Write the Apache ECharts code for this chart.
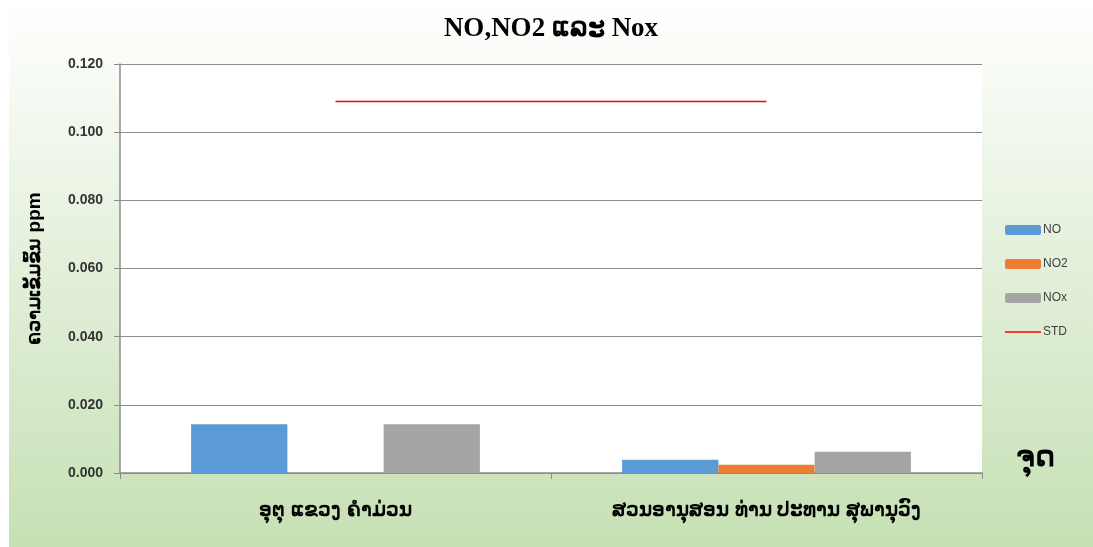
<!DOCTYPE html>
<html>
<head>
<meta charset="utf-8">
<script src="https://cdn.jsdelivr.net/npm/echarts@6/dist/echarts.min.js"></script>
<style>
  body { margin: 0; background: #fff; }
  .chart-wrap { position: absolute; left: 9px; top: 0; width: 1084px; height: 547px; }
</style>
</head>
<body>
<div class="chart-wrap" id="main"></div>
<script>
// 数据
const categories = ["ອຸຕຸ ແຂວງ ຄໍາມ່ວນ", "ສວນອານຸສອນ ທ່ານ ປະທານ ສຸພານຸວົງ"];
const noValues = [0.0143, 0.0039];
const no2Values = ["-", 0.0024];
const noxValues = [0.0143, 0.0062];
const stdValues = [0.109, 0.109];

const chart = echarts.init(document.getElementById("main"));

const option = {
  backgroundColor: new echarts.graphic.LinearGradient(0, 0, 0, 1, [
    { offset: 0, color: "#ffffff" },
    { offset: 0.5, color: "#e2efd9" },
    { offset: 1, color: "#c6e0b4" },
  ]),
  title: {
    text: "NO,NO2 ແລະ Nox",
    left: "center",
    top: 11,
    textStyle: {
      fontFamily: "Liberation Serif",
      fontSize: 27,
      fontWeight: "bold",
      color: "#000",
    },
  },
  grid: {
    left: 111,
    right: 111,
    top: 64,
    bottom: 74,
    show: true,
    backgroundColor: "#ffffff",
    borderWidth: 0,
  },
  legend: {
    orient: "vertical",
    left: 991,
    top: 219,
    itemWidth: 36,
    itemHeight: 10,
    itemGap: 22,
    textStyle: { fontSize: 12, color: "#404040", padding: [0, 0, 0, -3] },
    data: [
      { name: "NO" },
      { name: "NO2" },
      { name: "NOx" },
      { name: "STD", icon: "path://M0,4.2 L36,4.2 L36,5.8 L0,5.8 Z" },
    ],
  },
  xAxis: {
    type: "category",
    data: categories,
    name: "ຈຸດ",
    nameLocation: "end",
    nameGap: 34,
    nameTextStyle: {
      fontSize: 30,
      fontWeight: "bold",
      color: "#000",
      verticalAlign: "bottom",
    },
    axisLine: { lineStyle: { color: "#8c8c8c", width: 1.5 } },
    axisTick: { show: true, length: 6, lineStyle: { color: "#8c8c8c" } },
    axisLabel: {
      fontSize: 20,
      fontWeight: "bold",
      color: "#000",
      margin: 27,
    },
  },
  yAxis: {
    type: "value",
    min: 0,
    max: 0.12,
    interval: 0.02,
    name: "ຄວາມເຂັ້ມຂົ້ນ ppm",
    nameLocation: "middle",
    nameGap: 76,
    nameTextStyle: { fontSize: 19, fontWeight: "bold", color: "#000" },
    axisLine: { show: true, lineStyle: { color: "#8c8c8c", width: 1.5 } },
    axisTick: { show: true, length: 6, lineStyle: { color: "#8c8c8c" } },
    splitLine: { lineStyle: { color: "#8c8c8c", width: 1 } },
    axisLabel: {
      fontSize: 14,
      fontWeight: "bold",
      color: "#333",
      margin: 17,
      formatter: (v) => v.toFixed(3),
    },
  },
  series: [
    {
      name: "NO",
      type: "bar",
      data: noValues,
      barGap: 0,
      barCategoryGap: "33%",
      itemStyle: { color: "#5b9bd5" },
    },
    {
      name: "NO2",
      type: "bar",
      data: no2Values,
      itemStyle: { color: "#ed7d31" },
    },
    {
      name: "NOx",
      type: "bar",
      data: noxValues,
      itemStyle: { color: "#a5a5a5" },
    },
    {
      name: "STD",
      type: "line",
      data: stdValues,
      symbol: "none",
      lineStyle: { color: "#ff0000", width: 1.5 },
      itemStyle: { color: "#ff0000" },
    },
  ],
};

chart.setOption(option);
</script>
</body>
</html>
